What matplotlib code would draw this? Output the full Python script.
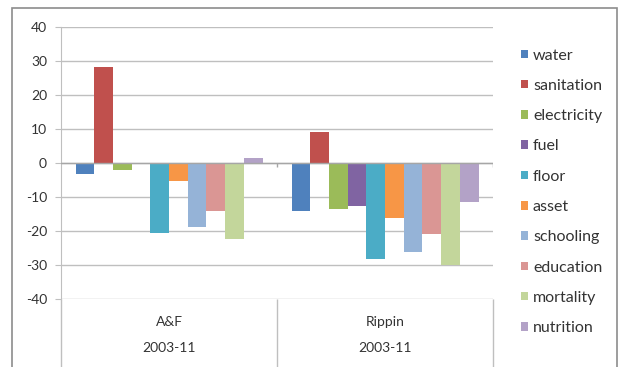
import matplotlib.pyplot as plt
import numpy as np
from matplotlib.patches import Rectangle

# data
groups = ['A&F', 'Rippin']
period = ['2003-11', '2003-11']
indicators = ['water', 'sanitation', 'electricity', 'fuel', 'floor',
              'asset', 'schooling', 'education', 'mortality', 'nutrition']
af = [-3.2, 28.3, -2.2, -0.3, -20.5, -5.4, -18.9, -14.1, -22.3, 1.4]
rippin = [-14.0, 9.0, -13.6, -12.5, -28.1, -16.1, -26.1, -20.9, -30.0, -11.4]
colors = ['#4F81BD', '#C0504D', '#9BBB59', '#8064A2', '#4BACC6',
          '#F79646', '#95B3D7', '#DA9694', '#C3D69B', '#B3A2C7']

plt.rcParams['font.family'] = ['Lato', 'DejaVu Sans']
plt.rcParams['font.size'] = 10
plt.rcParams['axes.unicode_minus'] = False
txt = '#333333'
grid_c = '#bfbfbf'

W, H = 618, 367
fig = plt.figure(figsize=(W / 100, H / 100), dpi=100)
ax = fig.add_axes([61 / W, 1 - 299 / H, (493 - 61) / W, (299 - 27) / H])

# chart border
fig.patches.append(Rectangle((12 / W, -0.1), (617 - 12) / W, 1.1 - 8 / H,
                             transform=fig.transFigure, fill=False,
                             edgecolor='#8c8c8c', linewidth=1.2))

x = np.arange(len(groups))
bw = 18.7 / 216
vals = np.array([af, rippin])
for i, name in enumerate(indicators):
    ax.bar(x + (i - 4.5) * bw, vals[:, i], width=bw, color=colors[i],
           label=name, zorder=3)

ax.set_xlim(-0.5, 1.5)
ax.set_ylim(-40, 40)
ax.set_yticks(range(-40, 41, 10))
ax.set_xticks([])
ax.tick_params(axis='y', length=4, color=grid_c, labelcolor=txt, pad=6,
               labelsize=10)
for s in ['top', 'right', 'bottom']:
    ax.spines[s].set_visible(False)
ax.spines['left'].set_color(grid_c)
ax.spines['left'].set_bounds(-40, 40)
for v in range(-40, 41, 10):
    ax.axhline(v, color=grid_c, linewidth=1, zorder=1)
ax.axhline(0, color='#a6a6a6', linewidth=1, zorder=4)
ax.vlines([0.5, 1.5], -1.3, 0, color='#a6a6a6', linewidth=1, zorder=4)

# category label cells under the plot
ax.vlines([-0.5, 0.5, 1.5], -61, -40, color=grid_c, linewidth=1, clip_on=False)
for xi, g, p in zip(x, groups, period):
    ax.text(xi, -46.8, g, ha='center', va='center', color=txt, clip_on=False)
    ax.text(xi, -54.5, p, ha='center', va='center', color=txt, clip_on=False)

ax.legend(loc='upper left', bbox_to_anchor=(521 / W, 1 - 48.5 / H),
          bbox_transform=fig.transFigure, frameon=False, fontsize=11.5,
          handlelength=0.45, handleheight=0.45, handletextpad=0.3,
          labelspacing=1.02, labelcolor=txt, borderpad=0, borderaxespad=0)

fig.savefig('out.png', dpi=100)
